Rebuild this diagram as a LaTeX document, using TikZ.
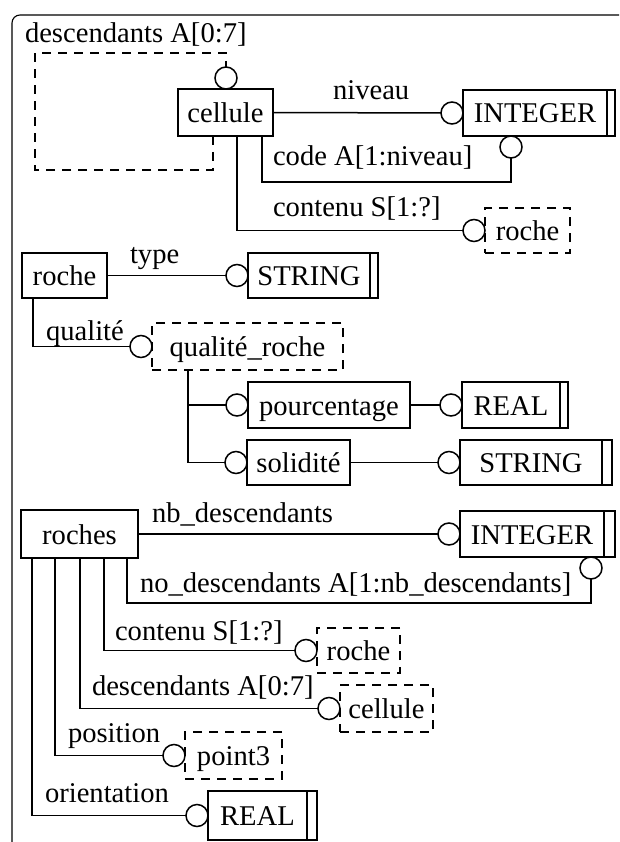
\documentclass[tikz,border=0pt]{standalone}
\usepackage{fontspec}
\setmainfont{Liberation Serif}
\begin{document}
\begin{tikzpicture}[x=1pt,y=-1pt,
  line width=1.5pt,
  font=\fontsize{28.6}{32}\selectfont,
  boxbase/.style={rectangle, inner sep=0pt, outer sep=0pt, text height=20pt, text depth=0pt},
  ent/.style={boxbase, draw},
  reftype/.style={boxbase, draw, dash pattern=on 9pt off 7pt},
  simple/.style={boxbase, draw},
  rel/.style={circle, draw, minimum size=22pt, inner sep=0pt, outer sep=0pt},
  lbl/.style={anchor=base west, inner sep=0pt, outer sep=0pt},
  opt/.style={dash pattern=on 9pt off 7pt}
]
\useasboundingbox (0,0) rectangle (619,842);

% frame
\draw[line width=1.1pt, rounded corners=8pt] (12,842) -- (12,15) -- (619,15);

% ---------- cellule ----------
\node[ent, minimum width=95pt, minimum height=47pt] (cellule) at (225.5,112.5) {cellule};
\node[simple, minimum width=144pt, minimum height=46pt] (int1) at (535,113) {INTEGER};
\draw (int1.north east) -| ([xshift=8pt]int1.south east) -- (int1.south east);
\node[reftype, minimum width=85pt, minimum height=45pt] (rref1) at (527.5,230.5) {roche};

\node[rel] (c0) at (226,78) {};
\node[rel] (c1) at (452,113) {};
\node[rel] (c2) at (511,147) {};
\node[rel] (c3) at (474,230.5) {};

\coordinate (lp1) at (213,170);
\coordinate (lp2) at (35,170);
\coordinate (lp3) at (35,53);
\coordinate (lp4) at (226,53);
\draw[opt] (cellule.south -| lp1) -- (lp1) -- (lp2) -- (lp3) -- (lp4) -- (c0.north);

\draw (cellule.east) -- (c1.west);
\coordinate (k1) at (262,182);
\draw (cellule.south -| k1) -- (k1) -| (c2.south);
\coordinate (k2) at (237,0);
\draw (cellule.south -| k2) |- (c3.west);

\node[lbl] (l1) at (25,43) {descendants A[0:7]};
\node[lbl] (l2) at (333,100) {niveau};
\node[lbl] (l3) at (273,166) {code A[1:niveau]};
\node[lbl] (l4) at (273,217) {contenu S[1:?]};

% ---------- roche ----------
\node[ent, minimum width=85pt, minimum height=45pt] (roche) at (64.5,275.5) {roche};
\node[simple, minimum width=122pt, minimum height=45pt] (str1) at (309,275.5) {STRING};
\draw (str1.north east) -| ([xshift=8pt]str1.south east) -- (str1.south east);
\node[reftype, minimum width=191pt, minimum height=47pt] (qr) at (247.5,346.5) {qualité\_roche};
\node[ent, minimum width=162pt, minimum height=46pt] (pourc) at (329,405) {pourcentage};
\node[simple, minimum width=98pt, minimum height=46pt] (real1) at (511,405) {REAL};
\draw (real1.north east) -| ([xshift=8pt]real1.south east) -- (real1.south east);
\node[ent, minimum width=103pt, minimum height=45pt] (solid) at (298.5,462.5) {solidité};
\node[simple, minimum width=142pt, minimum height=45pt] (str2) at (531,462.5) {STRING};
\draw (str2.north east) -| ([xshift=10pt]str2.south east) -- (str2.south east);

\node[rel] (c4) at (237,275.5) {};
\node[rel] (c5) at (141,346.5) {};
\node[rel] (c6) at (237,405) {};
\node[rel] (c7) at (451,405) {};
\node[rel] (c8) at (236,462.5) {};
\node[rel] (c9) at (449,462.5) {};

\draw (roche.east) -- (c4.west);
\coordinate (k3) at (33,0);
\draw (roche.south -| k3) |- (c5.west);
\coordinate (k4) at (188,0);
\draw (qr.south -| k4) |- (c6.west);
\draw (qr.south -| k4) |- (c8.west);
\draw (pourc.east) -- (c7.west);
\draw (solid.east) -- (c9.west);

\node[lbl] (l5) at (130,263) {type};
\node[lbl] (l6) at (46,340) {qualité};

% ---------- roches ----------
\node[ent, minimum width=117pt, minimum height=48pt] (roches) at (79.5,534) {roches};
\node[simple, minimum width=144pt, minimum height=46pt] (int2) at (532,534) {INTEGER};
\draw (int2.north east) -| ([xshift=11pt]int2.south east) -- (int2.south east);
\node[reftype, minimum width=83pt, minimum height=45pt] (rref2) at (358.5,650.5) {roche};
\node[reftype, minimum width=93pt, minimum height=47pt] (cref) at (386.5,708.5) {cellule};
\node[reftype, minimum width=97pt, minimum height=47pt] (p3) at (233.5,755.5) {point3};
\node[simple, minimum width=99pt, minimum height=49pt] (real2) at (257.5,815.5) {REAL};
\draw (real2.north east) -| ([xshift=10pt]real2.south east) -- (real2.south east);

\node[rel] (c10) at (449,534) {};
\node[rel] (c11) at (591,568) {};
\node[rel] (c12) at (306,650.5) {};
\node[rel] (c13) at (329,708.5) {};
\node[rel] (c14) at (174,755.5) {};
\node[rel] (c15) at (197,815.5) {};

\draw (roches.east) -- (c10.west);
\coordinate (k5) at (127,603);
\draw (roches.south -| k5) -- (k5) -| (c11.south);
\coordinate (k6) at (104,0);
\draw (roches.south -| k6) |- (c12.west);
\coordinate (k7) at (80,0);
\draw (roches.south -| k7) |- (c13.west);
\coordinate (k8) at (55,0);
\draw (roches.south -| k8) |- (c14.west);
\coordinate (k9) at (32,0);
\draw (roches.south -| k9) |- (c15.west);

\node[lbl] (l7) at (152,522) {nb\_descendants};
\node[lbl] (l8) at (140,592) {no\_descendants A[1:nb\_descendants]};
\node[lbl] (l9) at (115,640) {contenu S[1:?]};
\node[lbl] (l10) at (92,695) {descendants A[0:7]};
\node[lbl] (l11) at (68,742) {position};
\node[lbl] (l12) at (45,802) {orientation};
\end{tikzpicture}
\end{document}
